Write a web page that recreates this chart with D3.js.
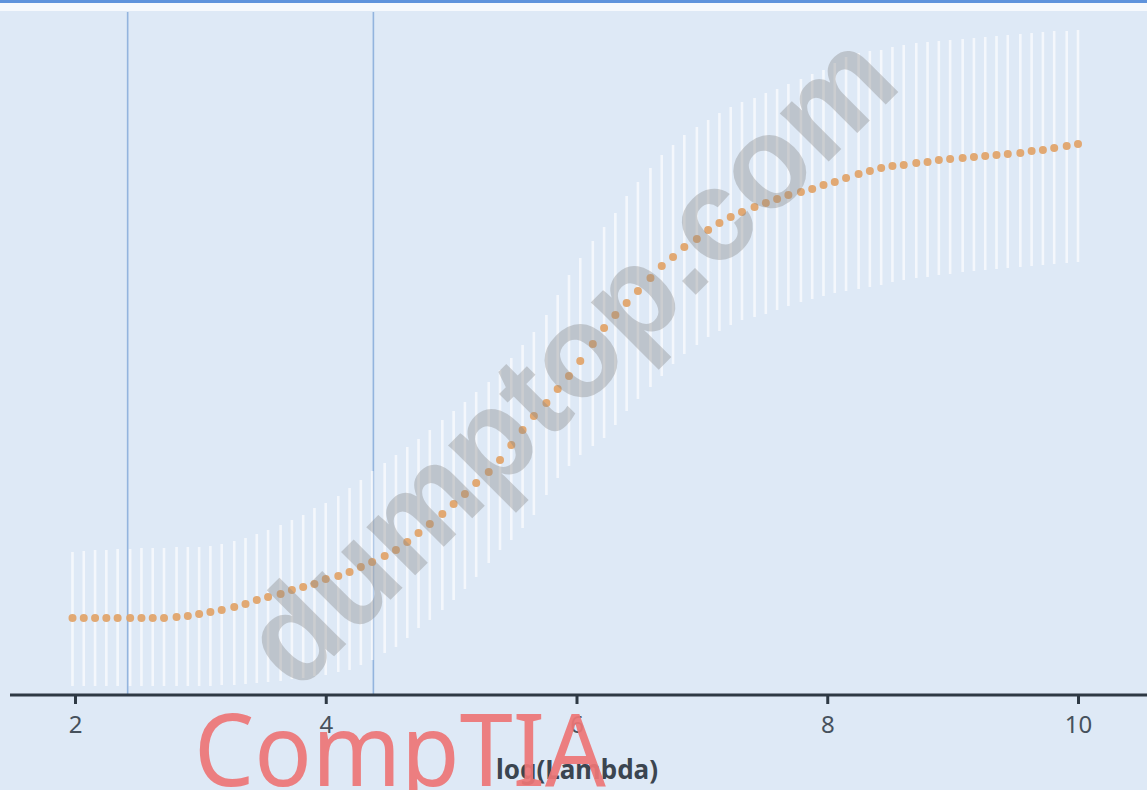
<!DOCTYPE html>
<html>
<head>
<meta charset="utf-8">
<script src="https://cdn.jsdelivr.net/npm/d3@7"></script>
<style>
  html, body { margin: 0; padding: 0; background: #dfe9f6; overflow: hidden; }
  svg { display: block; }
</style>
</head>
<body>
<div id="chart"></div>
<script>
// log(lambda) grid of the cross-validation fit
const logLambda = [1.98, 2.07, 2.16, 2.25, 2.34, 2.44, 2.53, 2.62, 2.71, 2.81,
  2.90, 2.99, 3.08, 3.17, 3.27, 3.36, 3.45, 3.54, 3.64, 3.73,
  3.82, 3.91, 4.00, 4.10, 4.19, 4.28, 4.37, 4.47, 4.56, 4.65,
  4.74, 4.83, 4.93, 5.02, 5.11, 5.20, 5.30, 5.39, 5.48, 5.57,
  5.66, 5.76, 5.85, 5.94, 6.03, 6.13, 6.22, 6.31, 6.40, 6.49,
  6.59, 6.68, 6.77, 6.86, 6.96, 7.05, 7.14, 7.23, 7.32, 7.42,
  7.51, 7.60, 7.69, 7.79, 7.88, 7.97, 8.06, 8.15, 8.25, 8.34,
  8.43, 8.52, 8.61, 8.71, 8.80, 8.89, 8.98, 9.08, 9.17, 9.26,
  9.35, 9.44, 9.54, 9.63, 9.72, 9.81, 9.91, 10.00];

// mean cv error
const cvMean = [7.7, 7.7, 7.7, 7.7, 7.7, 7.7, 7.7, 7.7, 7.7, 7.8,
  7.9, 8.1, 8.3, 8.5, 8.8, 9.1, 9.5, 9.8, 10.1, 10.5,
  10.8, 11.1, 11.6, 11.9, 12.3, 12.8, 13.3, 13.9, 14.5, 15.3,
  16.2, 17.1, 18.1, 19.1, 20.1, 21.2, 22.3, 23.5, 25.0, 26.5,
  27.9, 29.2, 30.6, 31.9, 33.4, 35.1, 36.7, 38.0, 39.2, 40.4,
  41.7, 42.9, 43.8, 44.8, 45.6, 46.5, 47.2, 47.8, 48.3, 48.8,
  49.2, 49.6, 50.0, 50.3, 50.6, 51.0, 51.3, 51.7, 52.1, 52.4,
  52.7, 52.9, 53.0, 53.2, 53.3, 53.5, 53.6, 53.7, 53.8, 53.9,
  54.0, 54.1, 54.2, 54.4, 54.5, 54.7, 54.9, 55.1];

// upper end of error bar
const cvUpper = [14.3, 14.4, 14.5, 14.5, 14.6, 14.6, 14.7, 14.7, 14.7, 14.8,
  14.8, 14.8, 14.9, 15.1, 15.4, 15.7, 16.1, 16.5, 17.0, 17.5,
  18.0, 18.7, 19.2, 19.9, 20.7, 21.5, 22.4, 23.2, 24.0, 24.8,
  25.6, 26.5, 27.5, 28.4, 29.3, 30.3, 31.3, 32.5, 33.7, 35.0,
  36.3, 38.0, 40.0, 42.0, 43.7, 45.4, 46.8, 48.2, 49.9, 51.3,
  52.7, 54.0, 55.0, 56.0, 56.8, 57.5, 58.2, 58.8, 59.3, 59.7,
  60.2, 60.6, 61.1, 61.6, 62.1, 62.5, 63.2, 63.8, 64.2, 64.4,
  64.5, 64.8, 65.0, 65.2, 65.3, 65.4, 65.5, 65.6, 65.7, 65.8,
  65.9, 66.0, 66.1, 66.2, 66.3, 66.4, 66.4, 66.5];

// lower end of error bar
const cvLower = [0.9, 0.9, 0.9, 0.9, 0.9, 0.9, 0.9, 0.9, 0.9, 0.9,
  0.9, 0.9, 0.9, 1.0, 1.0, 1.1, 1.2, 1.3, 1.4, 1.6,
  1.7, 1.9, 2.0, 2.3, 2.5, 3.0, 3.5, 4.2, 4.8, 5.7,
  6.7, 7.5, 8.5, 9.5, 10.6, 11.8, 13.2, 14.5, 15.5, 16.7,
  18.0, 20.0, 21.7, 22.9, 24.0, 24.9, 25.7, 27.0, 28.4, 29.6,
  30.8, 31.9, 33.1, 34.1, 35.0, 35.8, 36.4, 37.0, 37.5, 37.8,
  38.1, 38.5, 38.9, 39.3, 39.6, 39.9, 40.2, 40.4, 40.6, 40.8,
  41.0, 41.3, 41.5, 41.7, 41.8, 42.0, 42.1, 42.3, 42.4, 42.5,
  42.6, 42.7, 42.8, 42.9, 43.0, 43.1, 43.2, 43.3];

// lambda.min and lambda.1se
const refLines = [2.42, 4.38];
const xTicks = [2, 4, 6, 8, 10];
const xLabel = "log(Lambda)";

const width = 1147;
const height = 790;
const axisY = 695;

const data = logLambda.map((x, i) => ({
  x: x, mean: cvMean[i], up: cvUpper[i], lo: cvLower[i]
}));

const svg = d3.select("#chart").append("svg")
  .attr("width", width)
  .attr("height", height);

// page background, blue strip on top
svg.append("rect")
  .attr("width", width).attr("height", height)
  .attr("fill", "#dee9f6");
svg.append("rect")
  .attr("width", width).attr("height", 11)
  .attr("fill", "#f6f9fd");
svg.append("rect")
  .attr("width", width).attr("height", 3)
  .attr("fill", "#5f93dc");

const x = d3.scaleLinear()
  .domain([2, 10])
  .range([75, 1078]);

const y = d3.scaleLinear()
  .domain([0, 68])
  .range([axisY, 15]);

// reference lines
svg.selectAll(".ref")
  .data(refLines)
  .join("line")
  .attr("class", "ref")
  .attr("x1", d => x(d))
  .attr("x2", d => x(d))
  .attr("y1", 12)
  .attr("y2", axisY)
  .style("stroke", "#93b4de")
  .style("stroke-width", 1.6);

// error bars
svg.selectAll(".bar")
  .data(data)
  .join("line")
  .attr("class", "bar")
  .attr("x1", d => x(d.x))
  .attr("x2", d => x(d.x))
  .attr("y1", d => y(d.up))
  .attr("y2", d => y(d.lo))
  .style("stroke", "#ffffff")
  .style("stroke-width", 2.6)
  .style("opacity", 0.68);

// mean points
svg.selectAll(".pt")
  .data(data)
  .join("circle")
  .attr("class", "pt")
  .attr("cx", d => x(d.x))
  .attr("cy", d => y(d.mean))
  .attr("r", 4)
  .style("fill", "#e0a46c")
  .style("opacity", 0.95);

// x axis
svg.append("line")
  .attr("x1", 10).attr("x2", width)
  .attr("y1", axisY).attr("y2", axisY)
  .style("stroke", "#2e3944")
  .style("stroke-width", 3);

const axis = svg.append("g")
  .attr("transform", `translate(0,${axisY})`)
  .call(d3.axisBottom(x).tickValues(xTicks).tickSize(9).tickPadding(12).tickFormat(d3.format("d")));

axis.select(".domain").remove();
axis.selectAll(".tick line")
  .style("stroke", "#2e3944")
  .style("stroke-width", 3);
axis.selectAll(".tick text")
  .style("font-family", "'Noto Sans', 'DejaVu Sans', sans-serif")
  .style("font-size", "24px")
  .style("fill", "#46515c");

svg.append("text")
  .attr("x", 577)
  .attr("y", 779)
  .attr("text-anchor", "middle")
  .style("font-family", "'Noto Sans', 'DejaVu Sans', sans-serif")
  .style("font-size", "26px")
  .style("font-weight", "bold")
  .style("fill", "#3b4550")
  .text(xLabel);

// watermarks
svg.append("text")
  .attr("transform", "translate(568,358) rotate(-45)")
  .attr("text-anchor", "middle")
  .attr("dy", "0.35em")
  .style("font-family", "'Liberation Sans', Arial, sans-serif")
  .style("font-size", "130px")
  .style("font-weight", "bold")
  .style("fill", "#8a8a8a")
  .style("opacity", 0.38)
  .text("dumptop.com");

svg.append("text")
  .attr("x", 194)
  .attr("y", 786)
  .attr("textLength", 412)
  .attr("lengthAdjust", "spacingAndGlyphs")
  .style("font-family", "'Noto Sans', sans-serif")
  .style("font-size", "100px")
  .style("fill", "#ee7676")
  .style("opacity", 0.92)
  .text("CompTIA");
</script>
</body>
</html>
